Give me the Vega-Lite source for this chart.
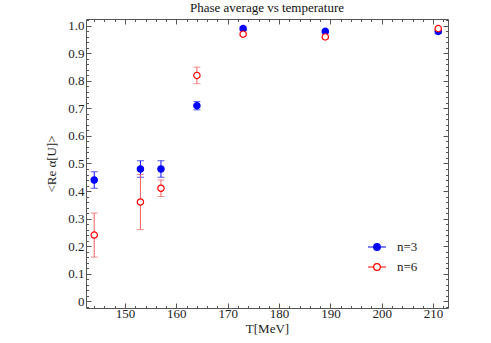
{
  "$schema": "https://vega.github.io/schema/vega-lite/v6.json",
  "width": 362,
  "height": 289,
  "autosize": "none",
  "padding": {"left": 86, "top": 19, "right": 43, "bottom": 35},
  "background": "white",
  "title": {"text": "Phase average vs temperature", "font": "Liberation Serif", "fontSize": 13, "fontWeight": "normal", "color": "#111", "offset": 4},
  "data": {"values": [
    {"T": 144, "n": "n=3", "v": 0.44, "lo": 0.41, "hi": 0.47},
    {"T": 153, "n": "n=3", "v": 0.48, "lo": 0.45, "hi": 0.51},
    {"T": 157, "n": "n=3", "v": 0.48, "lo": 0.45, "hi": 0.51},
    {"T": 164, "n": "n=3", "v": 0.71, "lo": 0.695, "hi": 0.725},
    {"T": 173, "n": "n=3", "v": 0.99, "lo": 0.983, "hi": 0.997},
    {"T": 189, "n": "n=3", "v": 0.98, "lo": 0.975, "hi": 0.985},
    {"T": 211, "n": "n=3", "v": 0.98, "lo": 0.972, "hi": 0.988},
    {"T": 144, "n": "n=6", "v": 0.24, "lo": 0.16, "hi": 0.32},
    {"T": 153, "n": "n=6", "v": 0.36, "lo": 0.26, "hi": 0.46},
    {"T": 157, "n": "n=6", "v": 0.41, "lo": 0.38, "hi": 0.44},
    {"T": 164, "n": "n=6", "v": 0.82, "lo": 0.79, "hi": 0.85},
    {"T": 173, "n": "n=6", "v": 0.97, "lo": 0.962, "hi": 0.978},
    {"T": 189, "n": "n=6", "v": 0.96, "lo": 0.952, "hi": 0.968},
    {"T": 211, "n": "n=6", "v": 0.99, "lo": 0.984, "hi": 0.996}
  ]},
  "config": {
    "view": {"stroke": null},
    "axis": {
      "domainColor": "#555",
      "tickColor": "#555",
      "grid": false,
      "labelFont": "Liberation Serif",
      "labelFontSize": 13,
      "labelColor": "#222",
      "titleFont": "Liberation Serif",
      "titleFontSize": 13,
      "titleFontWeight": "normal",
      "titleColor": "#222"
    }
  },
  "layer": [
    {
      "mark": {"type": "errorbar", "ticks": {"size": 7}},
      "encoding": {
        "x": {"field": "T", "type": "quantitative",
          "scale": {"domain": [142.4, 212.9], "nice": false, "zero": false},
          "axis": {"orient": "bottom", "title": "T[MeV]", "titlePadding": 2,
            "values": [144,146,148,150,152,154,156,158,160,162,164,166,168,170,172,174,176,178,180,182,184,186,188,190,192,194,196,198,200,202,204,206,208,210,212],
            "labelExpr": "datum.value % 10 === 0 ? datum.label : ''",
            "tickSize": {"condition": {"test": "datum.value % 10 === 0", "value": -5}, "value": -2.5},
            "labelPadding": 4}},
        "y": {"field": "lo", "type": "quantitative",
          "scale": {"domain": [-0.025, 1.025], "nice": false, "zero": false},
          "axis": {"orient": "left", "title": "<Re α[U]>", "titlePadding": 9,
            "values": [-0.02,0,0.02,0.04,0.06,0.08,0.1,0.12,0.14,0.16,0.18,0.2,0.22,0.24,0.26,0.28,0.3,0.32,0.34,0.36,0.38,0.4,0.42,0.44,0.46,0.48,0.5,0.52,0.54,0.56,0.58,0.6,0.62,0.64,0.66,0.68,0.7,0.72,0.74,0.76,0.78,0.8,0.82,0.84,0.86,0.88,0.9,0.92,0.94,0.96,0.98,1,1.02],
            "labelExpr": "abs(datum.value*10 - round(datum.value*10)) < 1e-6 ? (datum.value == 0 ? '0' : format(datum.value, '.1f')) : ''",
            "tickSize": {"condition": {"test": "abs(datum.value*10 - round(datum.value*10)) < 1e-6", "value": -5}, "value": -2.5},
            "labelPadding": 7}},
        "y2": {"field": "hi"},
        "color": {"field": "n", "type": "nominal", "scale": {"domain": ["n=3", "n=6"], "range": ["#1010ff", "#f06060"]}, "legend": null}
      }
    },
    {
      "mark": {"type": "point", "size": 40, "strokeWidth": 1.2, "opacity": 1},
      "encoding": {
        "x": {"field": "T", "type": "quantitative",
          "axis": {"orient": "top", "title": null, "labels": false,
            "values": [144,146,148,150,152,154,156,158,160,162,164,166,168,170,172,174,176,178,180,182,184,186,188,190,192,194,196,198,200,202,204,206,208,210,212],
            "tickSize": {"condition": {"test": "datum.value % 10 === 0", "value": -5}, "value": -2.5}}},
        "y": {"field": "v", "type": "quantitative",
          "axis": {"orient": "right", "title": null, "labels": false,
            "values": [-0.02,0,0.02,0.04,0.06,0.08,0.1,0.12,0.14,0.16,0.18,0.2,0.22,0.24,0.26,0.28,0.3,0.32,0.34,0.36,0.38,0.4,0.42,0.44,0.46,0.48,0.5,0.52,0.54,0.56,0.58,0.6,0.62,0.64,0.66,0.68,0.7,0.72,0.74,0.76,0.78,0.8,0.82,0.84,0.86,0.88,0.9,0.92,0.94,0.96,0.98,1,1.02],
            "tickSize": {"condition": {"test": "abs(datum.value*10 - round(datum.value*10)) < 1e-6", "value": -5}, "value": -2.5}}},
        "stroke": {"field": "n", "type": "nominal", "scale": {"domain": ["n=3", "n=6"], "range": ["#0000ff", "#ff0000"]},
          "legend": {"title": null, "orient": "none", "legendX": 281, "legendY": 218, "padding": 0,
            "symbolType": "M-1,0H-0.37M0.37,0H1M0.37,0A0.37,0.37 0 1,1 -0.37,0A0.37,0.37 0 1,1 0.37,0",
            "symbolSize": 324, "symbolStrokeWidth": 1.2, "rowPadding": 3, "labelOffset": 10,
            "labelFont": "Liberation Serif", "labelFontSize": 13, "labelColor": "#222"}},
        "fill": {"field": "n", "type": "nominal", "scale": {"domain": ["n=3", "n=6"], "range": ["#0000ff", "#ffffff"]},
          "legend": {"title": null, "orient": "none", "legendX": 281, "legendY": 218, "padding": 0,
            "symbolType": "M-1,0H-0.37M0.37,0H1M0.37,0A0.37,0.37 0 1,1 -0.37,0A0.37,0.37 0 1,1 0.37,0",
            "symbolSize": 324, "symbolStrokeWidth": 1.2, "rowPadding": 3, "labelOffset": 10,
            "labelFont": "Liberation Serif", "labelFontSize": 13, "labelColor": "#222"}}
      }
    }
  ],
  "resolve": {"axis": {"x": "independent", "y": "independent"}, "scale": {"color": "independent", "stroke": "independent", "fill": "independent"}}
}
